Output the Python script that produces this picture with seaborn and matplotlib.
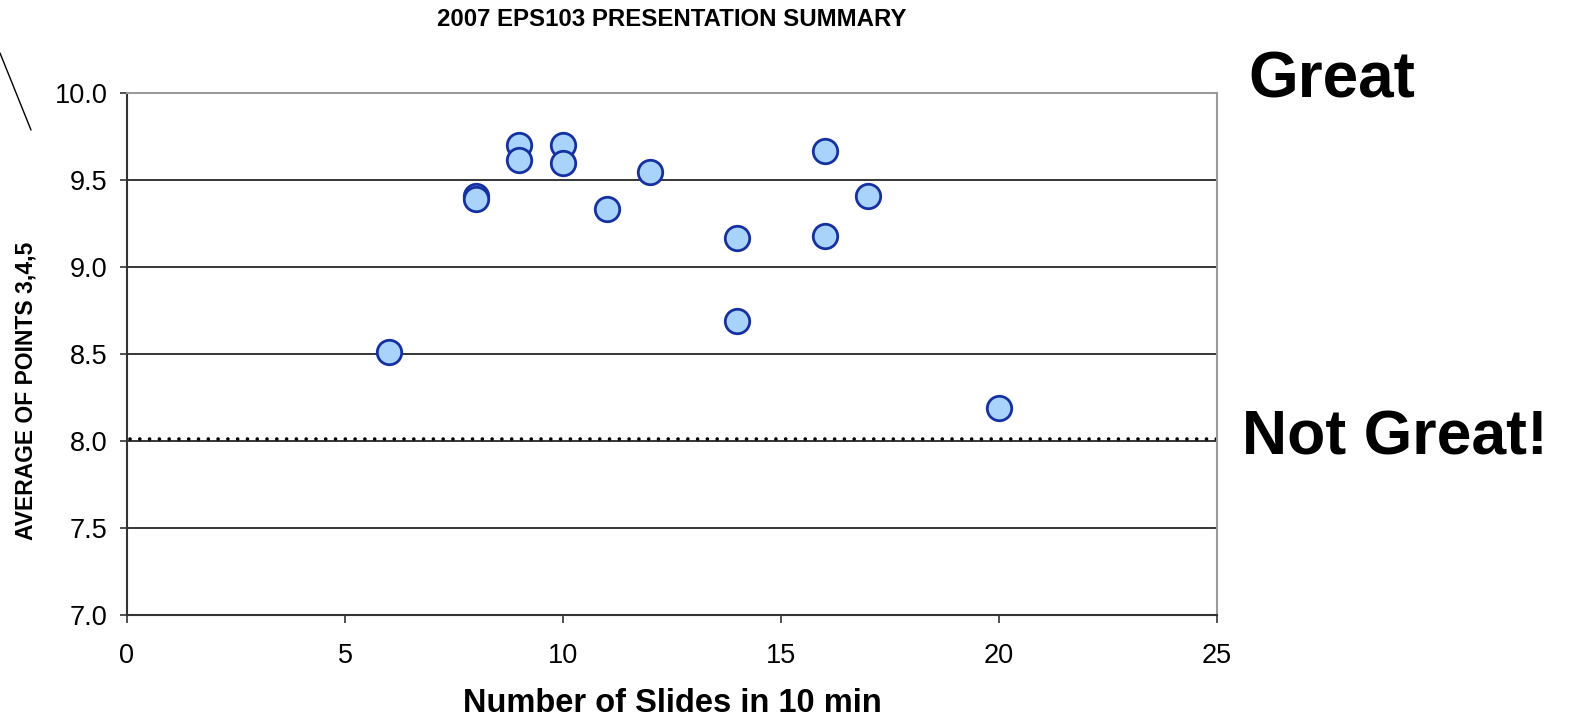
import matplotlib
matplotlib.use("Agg")
import matplotlib.pyplot as plt
from matplotlib.lines import Line2D
import seaborn as sns
import pandas as pd

# Presentation scores against slide count
slides = [6, 8, 8, 9, 9, 10, 10, 11, 12, 14, 14, 16, 16, 17, 20]
avg_points = [8.51, 9.41, 9.39, 9.70, 9.615, 9.70, 9.596, 9.333, 9.548,
              9.165, 8.69, 9.668, 9.178, 9.408, 8.19]
threshold = 8.01
x_ticks = [0, 5, 10, 15, 20, 25]
y_ticks = [7.0, 7.5, 8.0, 8.5, 9.0, 9.5, 10.0]

df = pd.DataFrame({"slides": slides, "avg": avg_points})

sns.set_theme(style="white")
plt.rcParams["font.family"] = ["Liberation Sans", "DejaVu Sans"]
plt.rcParams["text.color"] = "black"
plt.rcParams["axes.labelcolor"] = "black"
plt.rcParams["xtick.color"] = "black"
plt.rcParams["ytick.color"] = "black"

fig = plt.figure(figsize=(15.7, 7.19), dpi=100)
ax = fig.add_axes([127 / 1570, 1 - 615 / 719, 1090 / 1570, 522 / 719])

# horizontal gridlines
for yv in y_ticks[1:-1]:
    ax.axhline(yv, color="black", lw=1.1, zorder=1)

# dotted threshold line
ax.plot([0.07, 25], [threshold, threshold], color="black", lw=2.6,
        linestyle=(0, (0.01, 2.7)), dash_capstyle="round", zorder=2)

sns.scatterplot(data=df, x="slides", y="avg", ax=ax, s=310,
                color="#a9d3fb", edgecolor="#1530a0", linewidth=2.0,
                zorder=3, legend=False)

ax.set_xlim(0, 25)
ax.set_ylim(7.0, 10.0)
ax.set_xticks(x_ticks)
ax.set_yticks(y_ticks)
ax.set_xticklabels([str(t) for t in x_ticks], fontsize=19.5)
ax.set_yticklabels([f"{t:.1f}" for t in y_ticks], fontsize=19.5)
ax.tick_params(axis="x", direction="out", length=6, width=1.2, color="#333333",
               pad=14, bottom=True)
ax.tick_params(axis="y", direction="out", length=5, width=1.2, color="#333333",
               pad=9, left=True)

for side in ["left", "bottom"]:
    ax.spines[side].set_color("#333333")
    ax.spines[side].set_linewidth(1.5)
for side in ["top", "right"]:
    ax.spines[side].set_color("#9a9a9a")
    ax.spines[side].set_linewidth(1.5)

ax.set_xlabel("Number of Slides in 10 min", fontsize=23.5, fontweight="bold")
ax.set_ylabel("AVERAGE OF POINTS 3,4,5", fontsize=16.5, fontweight="bold")
ax.yaxis.set_label_coords(-0.082, 0.429)
ax.xaxis.set_label_coords(0.5, -0.139)

fig.text(672 / 1570, 1 - 19 / 719, "2007 EPS103 PRESENTATION SUMMARY",
         ha="center", va="center", fontsize=17.3, fontweight="bold")

fig.text(1248 / 1570, 1 - 80 / 719, "Great", ha="left", va="center",
         fontsize=46, fontweight="bold")
fig.text(1242 / 1570, 1 - 438 / 719, "Not Great!", ha="left", va="center",
         fontsize=45, fontweight="bold")

# pointer stroke in the upper-left corner
fig.add_artist(Line2D([0 / 1570, 31 / 1570], [1 - 53 / 719, 1 - 130 / 719],
                      color="black", lw=1.0, transform=fig.transFigure))

fig.savefig("out.png", dpi=100, facecolor="white")
